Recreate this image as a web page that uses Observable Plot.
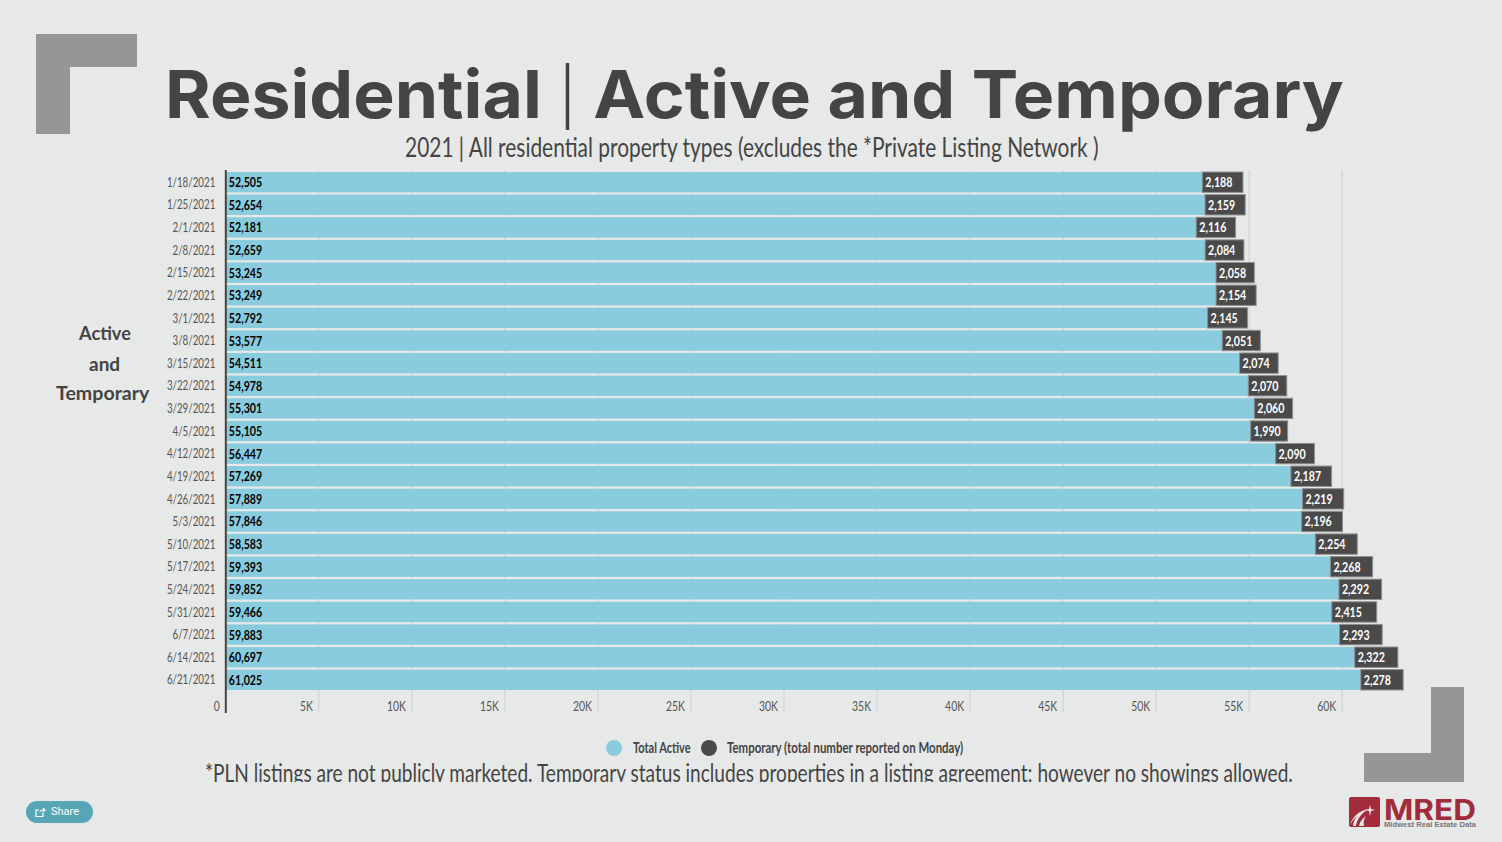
<!DOCTYPE html>
<html><head><meta charset="utf-8">
<script src="https://cdn.jsdelivr.net/npm/d3@7"></script>
<script src="https://cdn.jsdelivr.net/npm/@observablehq/plot@0.6"></script>
<style>
html,body{margin:0;padding:0;background:#e7e9e8;width:1502px;height:842px;overflow:hidden}
body{position:relative;font-family:Lato,sans-serif;color:#444}
.abs{position:absolute;white-space:nowrap}
.fit{transform-origin:0 0;display:inline-block}
#chart{position:absolute;left:0;top:165px}
#chart svg{background:transparent;display:block}
.br{position:absolute;background:#969696}
</style></head><body>
<div class="br" style="left:36px;top:34px;width:101px;height:33px"></div>
<div class="br" style="left:36px;top:67px;width:34px;height:67px"></div>
<div class="br" style="left:1431px;top:687px;width:33px;height:95px"></div>
<div class="br" style="left:1364px;top:753px;width:67px;height:29px"></div>
<div class="abs fit" data-w="1179" style="left:165px;top:54px;font:700 66px/80px Inter,sans-serif;color:#444">Residential <span style="font-weight:300;font-size:56px;position:relative;top:-1px">|</span> Active and Temporary</div>
<div class="abs fit" data-w="694" style="left:405px;top:131px;font-size:27px;line-height:32px;color:#444">2021 | All residential property types (excludes the *Private Listing Network )</div>
<div class="abs fit" data-w="52" style="left:79px;top:318px;font:700 19.6px/30.5px Lato,sans-serif">Active</div>
<div class="abs fit" data-w="31" style="left:89px;top:348.5px;font:700 19.6px/30.5px Lato,sans-serif">and</div>
<div class="abs fit" data-w="93" style="left:56px;top:378px;font:700 19.6px/30.5px Lato,sans-serif">Temporary</div>
<div id="chart"></div>
<div class="abs" style="left:606px;top:740px;width:16px;height:16px;border-radius:50%;background:#89ccdd"></div>
<div class="abs" style="left:701px;top:740px;width:16px;height:16px;border-radius:50%;background:#4a4a4a"></div>
<div class="abs fit" data-w="58" style="left:633px;top:738px;font-weight:700;font-size:15px;line-height:18px">Total Active</div>
<div class="abs fit" data-w="236" style="left:727px;top:738px;font-weight:700;font-size:15px;line-height:18px">Temporary (total number reported on Monday)</div>
<div class="abs" style="left:0;width:1502px;top:758px;height:24px;overflow:hidden">
<div class="abs fit" data-w="1088" style="left:205px;top:-1px;font-size:25px;line-height:30px;color:#444">*PLN listings are not publicly marketed. Temporary status includes properties in a listing agreement; however no showings allowed.</div></div>
<div class="abs" style="left:26px;top:801px;width:67px;height:22px;border-radius:11px;background:#58a5b5;color:#fff;font:11px/22px Roboto,sans-serif">
<svg style="position:absolute;left:9px;top:5px" width="12" height="12" viewBox="0 0 12 12" fill="none" stroke="#fff" stroke-width="1.2"><path d="M8 6.5V10.5H1V4H4"/><path d="M4 7C4.5 4.5 6.5 3.5 8 3.5V1.5L11 4L8 6.5V5C6.5 5 5 5.5 4 7Z" fill="#fff" stroke="none"/></svg>
<span style="position:absolute;left:25px">Share</span></div>
<svg class="abs" style="left:1349px;top:790px" width="140" height="45" viewBox="0 -6 140 45">
<rect x="0" y="1" width="31" height="30" rx="2" fill="#a22c3c"/>
<path d="M1 29C3 21 10 15 19 13C12 18 8 23 7 30H4C4 26 6 22 9 20C5 22 3 25 1 29Z" fill="#e7e9e8"/>
<path d="M10 30C11 25 14 22 17 20C15 23 14 26 15 30Z" fill="#e7e9e8"/>
<path d="M21 9L22 13L26 14L22 15L21 20L20 15L16 14L20 13Z" fill="#e7e9e8"/>
<text x="35" y="23.5" font-family="Inter,sans-serif" font-weight="700" font-size="29" fill="#a22c3c" textLength="92" lengthAdjust="spacingAndGlyphs">MRED</text>
<text x="35" y="31" font-family="Liberation Sans,sans-serif" font-weight="700" font-size="7" fill="#777" textLength="92" lengthAdjust="spacingAndGlyphs">Midwest Real Estate Data</text>
</svg>
<script>
const dates = ["1/18/2021","1/25/2021","2/1/2021","2/8/2021","2/15/2021","2/22/2021","3/1/2021","3/8/2021","3/15/2021","3/22/2021","3/29/2021","4/5/2021","4/12/2021","4/19/2021","4/26/2021","5/3/2021","5/10/2021","5/17/2021","5/24/2021","5/31/2021","6/7/2021","6/14/2021","6/21/2021"];
const totalActive = [52505,52654,52181,52659,53245,53249,52792,53577,54511,54978,55301,55105,56447,57269,57889,57846,58583,59393,59852,59466,59883,60697,61025];
const temporary = [2188,2159,2116,2084,2058,2154,2145,2051,2074,2070,2060,1990,2090,2187,2219,2196,2254,2268,2292,2415,2293,2322,2278];
const xTicks = [0,5000,10000,15000,20000,25000,30000,35000,40000,45000,50000,55000,60000];
const rows = dates.map((date,i)=>({date,active:totalActive[i],temp:temporary[i],end:totalActive[i]+temporary[i]}));
const fmt = d3.format(",");
const plot = Plot.plot({
  width:1502,height:550,marginTop:5,marginBottom:2,marginLeft:226,marginRight:100,
  style:{background:"transparent",fontFamily:"Lato,sans-serif",overflow:"visible"},
  x:{domain:[0,60000],range:[225.3,1341.7],axis:null},
  y:{domain:dates,range:[7,525],paddingInner:0.1,paddingOuter:0,round:false,label:null,axis:null},
  marks:[
    Plot.ruleX(xTicks.slice(1),{x:d=>d,stroke:"#d2d4d4",strokeWidth:1.2}),
    Plot.barX(rows,{y:"date",x1:0,x2:"active",fill:"#89ccdd"}),
    Plot.barX(rows,{y:"date",x1:"active",x2:"end",fill:"#4a4a4a",stroke:"#8f8f8f",strokeWidth:1}),
    Plot.ruleX([0],{stroke:"#444",strokeWidth:2}),
    Plot.text(dates,{y:d=>d,x:0,dx:-10.5,textAnchor:"end",fontSize:13,fill:"#555",text:d=>d}),
    Plot.text(xTicks,{x:d=>d,frameAnchor:"bottom",dy:-3,dx:-6,textAnchor:"end",fontSize:13,fill:"#555",text:d=>d===0?"0":(d/1000)+"K"}),
    Plot.text(rows,{y:"date",x:0,text:d=>fmt(d.active),textAnchor:"start",dx:3,fontSize:14,fontWeight:700,fill:"#000"}),
    Plot.text(rows,{y:"date",x:"active",text:d=>fmt(d.temp),textAnchor:"start",dx:2.5,fontSize:14,fontWeight:700,fill:"#fff"})
  ]
});
document.getElementById("chart").append(plot);
// The reference uses a narrow face that is not installed: condense the text to its measured widths.
d3.select(plot).selectAll("text").each(function(){
  const s=this.textContent;
  const k=s.includes("/")?0.75:s.includes(",")?0.76:0.8;
  this.setAttribute("textLength",this.getComputedTextLength()*k);
  this.setAttribute("lengthAdjust","spacingAndGlyphs");
});
document.querySelectorAll(".fit").forEach(el=>{
  el.style.transform=`scaleX(${el.dataset.w/el.offsetWidth})`;
});
</script>
</body></html>
